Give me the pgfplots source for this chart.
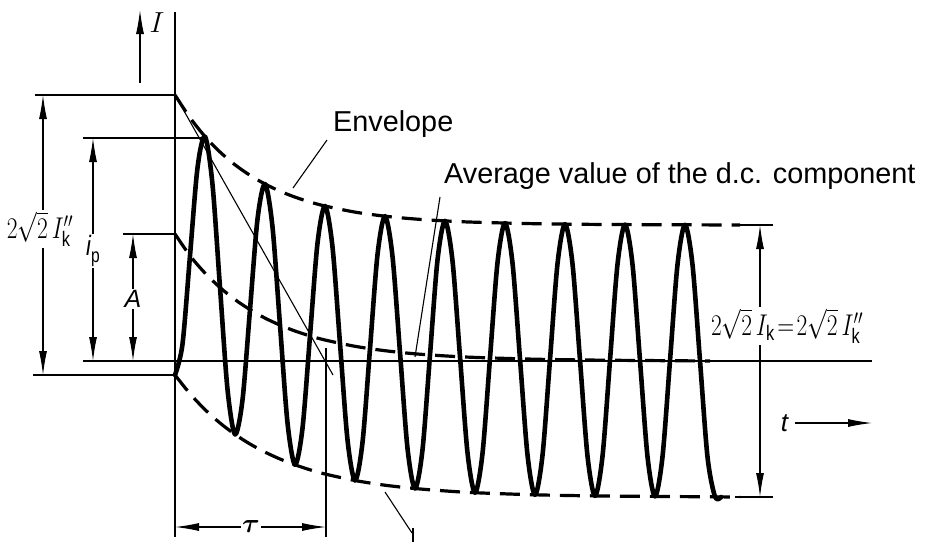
\RequirePackage{fix-cm}
\documentclass[border=0pt]{standalone}
\usepackage{pgfplots}
\pgfplotsset{compat=1.18}
\usepackage{amsmath}
\usepackage{fontspec}
\setmainfont{Liberation Sans}
\usetikzlibrary{arrows.meta}
\newcommand\cond[1]{\scalebox{0.78}[1]{#1}}
\newcommand\boldtau{\mbox{\boldmath$\tau$}}
\tikzset{
  thinl/.style={black, line width=1.1pt},
  dim/.style={black, line width=1.1pt, {Latex[length=24pt,width=8pt]}-{Latex[length=24pt,width=8pt]}},
  env/.style={black, line width=3.2pt, dash pattern=on 20pt off 10pt, smooth},
  lab/.style={fill=white, inner sep=1.5pt},
}
\begin{document}
\begin{tikzpicture}
\begin{axis}[
  width=931pt, height=544pt, scale only axis,
  xmin=0, xmax=931, ymin=0, ymax=544, y dir=reverse,
  hide axis, clip=false,
]
% thin reference lines
\addplot[thinl] coordinates {(175,12)(175,537)};
\addplot[thinl] coordinates {(35,95)(175,95)};
\addplot[thinl] coordinates {(83,138)(207,138)};
\addplot[thinl] coordinates {(123,234)(175,234)};
\addplot[thinl] coordinates {(83,361)(872,361)};
\addplot[thinl] coordinates {(33,375)(175,375)};
\addplot[thinl] coordinates {(735,225)(773,225)};
\addplot[thinl] coordinates {(735,497)(773,497)};
\addplot[thinl] coordinates {(326,348)(326,537)};
\addplot[thinl] coordinates {(175,95)(333,375)};
\addplot[thinl] coordinates {(327,140)(293,188)};
\addplot[thinl] coordinates {(440,197)(415,357)};
\addplot[thinl] coordinates {(385,492)(412,533)};
\addplot[thinl] coordinates {(413,528)(413,542)};
% dimension arrows
\addplot[thinl, -{Latex[length=24pt,width=8pt]}] coordinates {(140,83)(140,10)};
\addplot[dim] coordinates {(43,95)(43,375)};
\addplot[dim] coordinates {(93,138)(93,361)};
\addplot[dim] coordinates {(133,234)(133,361)};
\addplot[dim] coordinates {(760,225)(760,497)};
\addplot[dim] coordinates {(175,527)(326,527)};
\addplot[thinl, -{Latex[length=24pt,width=8pt]}] coordinates {(795,423)(872,423)};
% envelopes and d.c. component
\addplot[env] coordinates {(175,95)(190,117.7)(205,136.5)(220,152.0)(235,164.8)(250,175.3)(265,184.0)(280,191.2)(295,197.1)(310,202.0)(325,206.0)(355,212.1)(385,216.2)(415,219.0)(445,220.9)(475,222.2)(535,223.7)(595,224.4)(655,224.7)(740,225)};
\addplot[env] coordinates {(175,375)(190,393.7)(205,409.6)(220,423.0)(235,434.4)(250,444.0)(265,452.1)(280,459.0)(295,464.8)(310,469.8)(325,474.0)(355,480.5)(385,485.2)(415,488.5)(445,490.9)(475,492.7)(535,494.8)(595,495.9)(655,496.4)(740,497)};
\addplot[env] coordinates {(175,234)(190,255.7)(205,273.1)(220,287.5)(235,299.6)(250,309.6)(265,318.1)(280,325.1)(295,331.0)(310,335.9)(325,340.0)(355,346.3)(385,350.7)(415,353.8)(445,355.9)(475,357.4)(535,359.2)(595,360.1)(655,360.6)(710,361)};
% short-circuit current
\addplot[black, line width=4.6pt, smooth, line join=round, line cap=round] coordinates {
(175,375)(182.5,344.1)(190,255.7)(197.5,167.8)(205,136.5)(212.5,184.5)(220,287.5)(227.5,389.3)
(235,434.4)(242.5,399.9)(250,309.6)(257.5,219.2)(265,184.0)(272.5,227.0)(280,325.1)(287.5,422.8)
(295,464.8)(302.5,428.2)(310,335.9)(317.5,243.3)(325,206.0)(332.5,247.0)(340,343.4)(347.5,439.8)
(355,480.5)(362.5,442.5)(370,348.7)(377.5,254.7)(385,216.2)(392.5,256.4)(400,352.4)(407.5,448.3)
(415,488.5)(422.5,449.7)(430,354.9)(437.5,260.0)(445,220.9)(452.5,260.9)(460,356.8)(467.5,452.7)
(475,492.7)(482.5,453.4)(490,358.0)(497.5,262.6)(505,223.1)(512.5,263.0)(520,358.9)(527.5,454.9)
(535,494.8)(542.5,455.2)(550,359.5)(557.5,263.8)(565,224.1)(572.5,263.9)(580,360.0)(587.5,456.0)
(595,495.9)(602.5,456.2)(610,360.3)(617.5,264.3)(625,224.6)(632.5,264.4)(640,360.5)(647.5,456.6)
(655,496.4)(662.5,456.7)(670,360.6)(677.5,264.6)(685,224.8)(692.5,264.7)(700,360.8)(707.5,456.9)
(715,496.7)(721,497)};
% labels
\node[anchor=base west, inner sep=0pt, font=\fontsize{28.8}{30}\selectfont] at (axis cs:333,131) {Envelope};
\node[anchor=base west, inner sep=0pt, font=\fontsize{28.8}{30}\selectfont] at (axis cs:444,183) {Average value of the d.c. component};
\node[lab, font=\fontsize{30}{30}\selectfont] at (axis cs:40,229) {\cond{$2\sqrt{2}\,I_{\mathrm{k}}''$}};
\node[lab, font=\fontsize{30}{30}\selectfont] at (axis cs:787,326) {\cond{$2\sqrt{2}\,I_{\mathrm{k}}\!=\!2\sqrt{2}\,I_{\mathrm{k}}''$}};
\node[lab, font=\fontsize{28}{28}\selectfont] at (axis cs:93,251) {\cond{\itshape i\raisebox{-7pt}{\fontsize{20}{20}\selectfont\upshape p}}};
\node[lab, font=\fontsize{25}{25}\selectfont] at (axis cs:133,299) {\textit{A}};
\node[inner sep=0pt, font=\fontsize{29}{29}\selectfont] at (axis cs:157,23) {$I$};
\node[inner sep=0pt, font=\fontsize{26}{26}\selectfont] at (axis cs:785,423) {\textit{t}};
\node[lab, font=\fontsize{27}{27}\selectfont] at (axis cs:251,526) {\boldtau};
\end{axis}
\pgfresetboundingbox
\path (0,0) rectangle (931pt,544pt);
\end{tikzpicture}
\end{document}
